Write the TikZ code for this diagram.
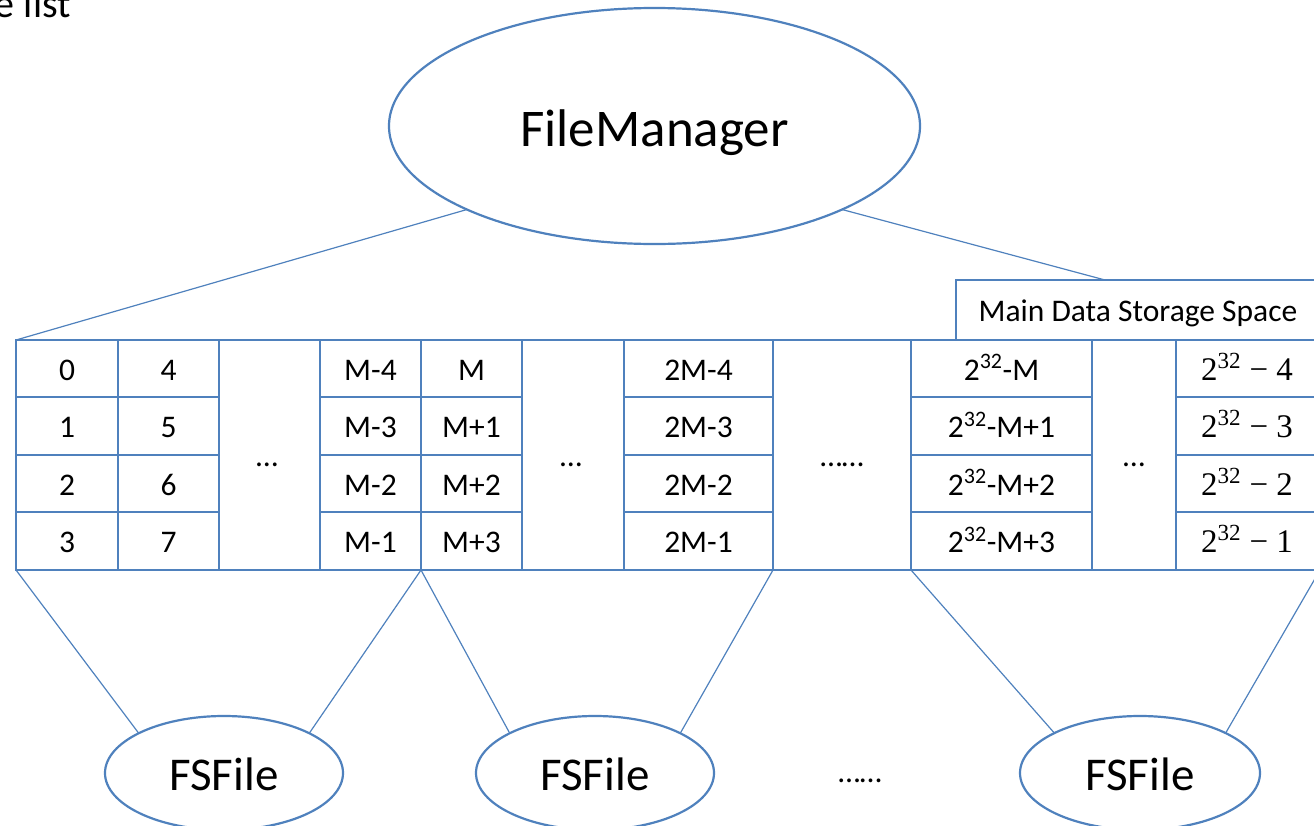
\RequirePackage{fix-cm}
\documentclass[tikz,border=0pt]{standalone}
\usepackage{fontspec}
\setmainfont{Carlito}
\newfontfamily\cambrialike{Liberation Serif}
\usetikzlibrary{shapes.geometric}
\definecolor{ob}{HTML}{4F81BD}
\begin{document}
\begin{tikzpicture}[x=1pt,y=-1pt,
  grid/.style={draw=ob, line width=2.5pt},
  cell/.style={font=\fontsize{31.5}{36}\selectfont, inner sep=0pt, text height=26pt, text depth=3pt},
  mcell/.style={font=\fontsize{33}{38}\selectfont\cambrialike, inner sep=0pt, text height=26pt, text depth=3pt},
  conn/.style={draw=ob, line width=1.2pt},
  oval/.style={ellipse, draw=ob, line width=2.2pt, inner sep=0pt, outer sep=0pt, fill=white},
  bigtext/.style={font=\fontsize{53}{60}\selectfont, text height=40pt, text depth=0pt},
  fstext/.style={font=\fontsize{47}{54}\selectfont, text height=34pt, text depth=0pt}]
\useasboundingbox (0,0) rectangle (1314,825);
\clip (0,0) rectangle (1314,825);

% cut-off caption (as in the reference, cut at the top-left corner)
\node[font=\fontsize{40}{46}\selectfont, inner sep=0pt, anchor=base east] (cap) at (71,17) {e list};

% table grid
\draw[grid] (16,340) rectangle (1320,570);
\foreach \xx in {118,219,320,421,522,624,773,911,1092,1176}
  \draw[grid] (\xx,340) -- (\xx,570);
\foreach \yy in {397,455,512}{
  \draw[grid] (16,\yy) -- (219,\yy);
  \draw[grid] (320,\yy) -- (522,\yy);
  \draw[grid] (624,\yy) -- (773,\yy);
  \draw[grid] (911,\yy) -- (1092,\yy);
  \draw[grid] (1176,\yy) -- (1320,\yy);
}

% storage space label box (runs past the right edge)
\draw[grid] (956,340) -- (956,280) -- (1330,280);
\node[cell] (mds) at (1138,310) {Main Data Storage Space};
\coordinate (mdsin) at (1105,280);

% table corner coordinates
\coordinate (tl) at (16,340);
\coordinate (b1) at (16,570);
\coordinate (b2) at (421,570);
\coordinate (b3) at (773,570);
\coordinate (b4) at (911,570);
\coordinate (b5) at (1320,570);

% cells
\node[cell] (a0) at (67,368.5) {0};
\node[cell] (a1) at (67,426) {1};
\node[cell] (a2) at (67,483.5) {2};
\node[cell] (a3) at (67,541) {3};
\node[cell] (b0) at (168.5,368.5) {4};
\node[cell] (bb1) at (168.5,426) {5};
\node[cell] (bb2) at (168.5,483.5) {6};
\node[cell] (bb3) at (168.5,541) {7};
\node[cell] (d1) at (267,455) {…};
\node[cell] (m0) at (370.5,368.5) {M-4};
\node[cell] (m1) at (370.5,426) {M-3};
\node[cell] (m2) at (370.5,483.5) {M-2};
\node[cell] (m3) at (370.5,541) {M-1};
\node[cell] (n0) at (471.5,368.5) {M};
\node[cell] (n1) at (471.5,426) {M+1};
\node[cell] (n2) at (471.5,483.5) {M+2};
\node[cell] (n3) at (471.5,541) {M+3};
\node[cell] (d2) at (571,455) {…};
\node[cell] (p0) at (698.5,368.5) {2M-4};
\node[cell] (p1) at (698.5,426) {2M-3};
\node[cell] (p2) at (698.5,483.5) {2M-2};
\node[cell] (p3) at (698.5,541) {2M-1};
\node[cell] (d3) at (842,455) {……};
\node[cell] (q0) at (1001.5,368.5) {2\textsuperscript{32}-M};
\node[cell] (q1) at (1001.5,426) {2\textsuperscript{32}-M+1};
\node[cell] (q2) at (1001.5,483.5) {2\textsuperscript{32}-M+2};
\node[cell] (q3) at (1001.5,541) {2\textsuperscript{32}-M+3};
\node[cell] (d4) at (1134,455) {…};
\node[mcell] (r0) at (1247,368.5) {2\textsuperscript{32} − 4};
\node[mcell] (r1) at (1247,426) {2\textsuperscript{32} − 3};
\node[mcell] (r2) at (1247,483.5) {2\textsuperscript{32} − 2};
\node[mcell] (r3) at (1247,541) {2\textsuperscript{32} − 1};

% ovals
\node[oval, bigtext, minimum width=531pt, minimum height=236pt] (FM) at (654.5,126) {FileManager};
\node[oval, fstext, minimum width=238pt, minimum height=114pt] (fs1) at (224,773) {FSFile};
\node[oval, fstext, minimum width=238pt, minimum height=114pt] (fs2) at (595,773) {FSFile};
\node[oval, fstext, minimum width=240pt, minimum height=114pt] (fs3) at (1140,773) {FSFile};
\node[cell, anchor=base] (dots) at (860,782) {……};

% connectors
\draw[conn] (FM.204) -- (tl);
\draw[conn] (FM.336) -- (mdsin);
\draw[conn] (b1) -- (fs1.155);
\draw[conn] (b2) -- (fs1.25);
\draw[conn] (b2) -- (fs2.155);
\draw[conn] (b3) -- (fs2.25);
\draw[conn] (b4) -- (fs3.155);
\draw[conn] (b5) -- (fs3.25);
\end{tikzpicture}
\end{document}
